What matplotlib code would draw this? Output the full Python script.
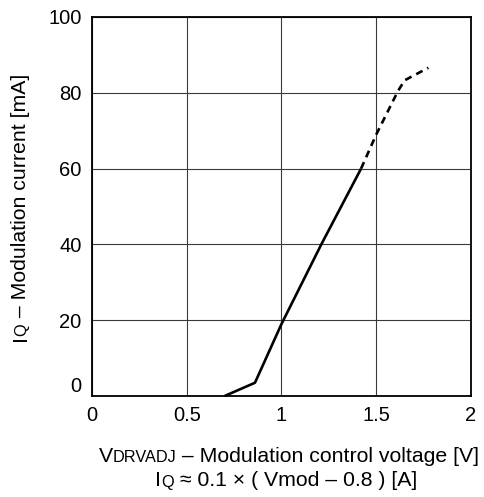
import matplotlib
matplotlib.use("Agg")
import matplotlib.pyplot as plt
import matplotlib.transforms as mtransforms

plt.rcParams['font.family'] = ['Liberation Sans', 'DejaVu Sans']

# Data
solid_x = [0.70, 0.86, 1.00, 1.21, 1.42]
solid_y = [0.0, 3.5, 19.0, 40.0, 60.0]
dash_x = [1.42, 1.50, 1.615, 1.65, 1.775]
dash_y = [60.0, 69.0, 80.5, 83.3, 86.6]
x_ticks = [0, 0.5, 1, 1.5, 2]
x_tick_labels = ['0', '0.5', '1', '1.5', '2']
y_ticks = [0, 20, 40, 60, 80, 100]
y_tick_labels = ['0', '20', '40', '60', '80', '100']

W, H = 485, 497
fig = plt.figure(figsize=(W / 100, H / 100), dpi=100)
ax = fig.add_axes([92 / W, (H - 396) / H, 379 / W, 379 / H])

ax.plot(solid_x, solid_y, color='black', lw=1.9, solid_capstyle='butt', clip_on=False, zorder=3)
ax.plot(dash_x, dash_y, color='black', lw=1.9, dashes=(2.7, 2.0), dash_capstyle='butt', clip_on=False, zorder=3)

ax.set_xlim(0, 2)
ax.set_ylim(0, 100)
ax.set_xticks(x_ticks, x_tick_labels)
ax.set_yticks(y_ticks, y_tick_labels)
ax.tick_params(length=0, labelsize=14.5, pad=7.5, colors='black')
ax.tick_params(axis='x', pad=7.5)
ax.grid(True, color='#3a3a3a', lw=0.8)
for s in ax.spines.values():
    s.set_linewidth(1.3)
    s.set_color('black')

# raise the "0" y tick label
offset = mtransforms.ScaledTranslation(0, 11.5 / 100, fig.dpi_scale_trans)
ylabels = ax.get_yticklabels()
ylabels[0].set_transform(ylabels[0].get_transform() + offset)

renderer = fig.canvas.get_renderer()


def measure(s, size):
    t = fig.text(0, 0, s, fontsize=size)
    w = t.get_window_extent(renderer).width
    t.remove()
    return w


def rich(segs, cx, cy, rotation=0):
    widths = [measure(s, sz) for s, sz in segs]
    total = sum(widths)
    pos = -total / 2
    for (s, sz), w in zip(segs, widths):
        if rotation == 0:
            x, y = cx + pos, cy
        else:
            x, y = cx, cy + pos
        fig.text(x / W, y / H, s, fontsize=sz, ha='left', va='baseline',
                 rotation=rotation, rotation_mode='anchor', color='black')
        pos += w


BIG, SMALL = 15.3, 11.7
rich([('V', BIG), ('DRVADJ', SMALL), (' \u2013 Modulation control voltage [V]', BIG)], 289, H - 462.5)
rich([('I', BIG), ('Q', SMALL), (' \u2248 0.1 \u00d7 ( Vmod \u2013 0.8 ) [A]', BIG)], 286, H - 486.5)
rich([('I', BIG), ('Q', SMALL), (' \u2013 Modulation current [mA]', BIG)], 26, H - 207.5, rotation=90)

fig.savefig('out.png', dpi=100)
